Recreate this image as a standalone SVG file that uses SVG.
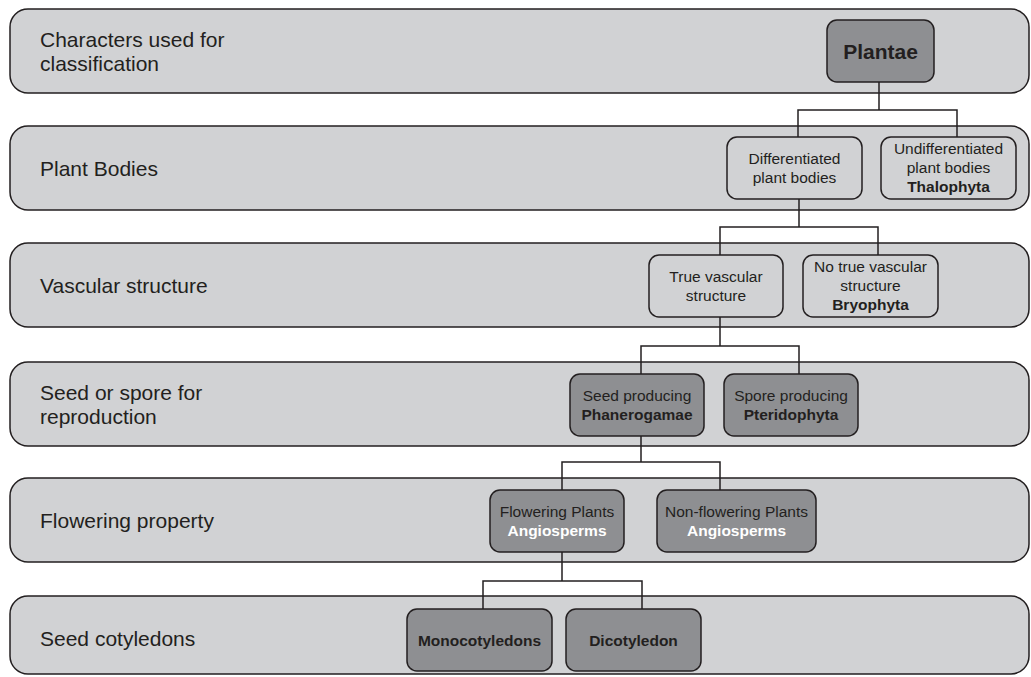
<svg xmlns="http://www.w3.org/2000/svg" width="1031" height="677" viewBox="0 0 1031 677">
<style>
.band{fill:#d1d2d4;stroke:#231f20;stroke-width:1.5}
.lt{fill:#d1d2d4;stroke:#231f20;stroke-width:1.5}
.dk{fill:#8e8f92;stroke:#231f20;stroke-width:1.5}
.lbl{font-family:"Liberation Sans",Arial,sans-serif;font-size:21px;fill:#231f20}
.t{font-family:"Liberation Sans",Arial,sans-serif;font-size:15.5px;fill:#231f20;text-anchor:middle}
.b{font-weight:bold}
.w{fill:#ffffff;font-weight:bold}
.conn{fill:none;stroke:#231f20;stroke-width:1.5}
</style>
<rect width="1031" height="677" fill="#ffffff"/>
<g id="bands">
<g id="band1"><rect class="band" x="10" y="9" width="1019" height="84" rx="18"/>
<text class="lbl" x="40" y="46.5">Characters used for</text><text class="lbl" x="40" y="70.5">classification</text></g>
<g id="band2"><rect class="band" x="10" y="126" width="1019" height="84" rx="18"/>
<text class="lbl" x="40" y="175.5">Plant Bodies</text></g>
<g id="band3"><rect class="band" x="10" y="243" width="1019" height="84" rx="18"/>
<text class="lbl" x="40" y="292.5">Vascular structure</text></g>
<g id="band4"><rect class="band" x="10" y="362" width="1019" height="84" rx="18"/>
<text class="lbl" x="40" y="399.5">Seed or spore for</text><text class="lbl" x="40" y="423.5">reproduction</text></g>
<g id="band5"><rect class="band" x="10" y="478" width="1019" height="84" rx="18"/>
<text class="lbl" x="40" y="527.5">Flowering property</text></g>
<g id="band6"><rect class="band" x="10" y="596" width="1019" height="78" rx="18"/>
<text class="lbl" x="40" y="645.5">Seed cotyledons</text></g>
</g>
<g id="connectors">
<path class="conn" d="M879 82V110M798 137V110H957V137"/>
<path class="conn" d="M799 199V227M720 255V227H878V255"/>
<path class="conn" d="M720 317V346M641 374V346H799V374"/>
<path class="conn" d="M641 436V462M562 490V462H720V490"/>
<path class="conn" d="M562 552V581M483 609V581H642V609"/>
</g>
<g id="plantae"><rect class="dk" x="827" y="20" width="107" height="62" rx="10"/>
<text class="t b" x="880.5" y="58.5" style="font-size:21px">Plantae</text></g>
<g id="differentiated"><rect class="lt" x="727" y="137" width="135" height="62" rx="10"/>
<text class="t" x="794.5" y="163.5">Differentiated</text><text class="t" x="794.5" y="182.5">plant bodies</text></g>
<g id="undifferentiated"><rect class="lt" x="881" y="137" width="135" height="62" rx="10"/>
<text class="t" x="948.5" y="154">Undifferentiated</text><text class="t" x="948.5" y="173">plant bodies</text><text class="t b" x="948.5" y="192">Thalophyta</text></g>
<g id="truevascular"><rect class="lt" x="649" y="255" width="134" height="62" rx="10"/>
<text class="t" x="716" y="281.5">True vascular</text><text class="t" x="716" y="300.5">structure</text></g>
<g id="notruevascular"><rect class="lt" x="803" y="255" width="135" height="62" rx="10"/>
<text class="t" x="870.5" y="272">No true vascular</text><text class="t" x="870.5" y="291">structure</text><text class="t b" x="870.5" y="310">Bryophyta</text></g>
<g id="seed"><rect class="dk" x="570" y="374" width="134" height="62" rx="10"/>
<text class="t" x="637" y="400.5">Seed producing</text><text class="t b" x="637" y="419.5">Phanerogamae</text></g>
<g id="spore"><rect class="dk" x="724" y="374" width="134" height="62" rx="10"/>
<text class="t" x="791" y="400.5">Spore producing</text><text class="t b" x="791" y="419.5">Pteridophyta</text></g>
<g id="flowering"><rect class="dk" x="490" y="490" width="134" height="62" rx="10"/>
<text class="t" x="557" y="516.5">Flowering Plants</text><text class="t w" x="557" y="535.5">Angiosperms</text></g>
<g id="nonflowering"><rect class="dk" x="657" y="490" width="159" height="62" rx="10"/>
<text class="t" x="736.5" y="516.5">Non-flowering Plants</text><text class="t w" x="736.5" y="535.5">Angiosperms</text></g>
<g id="monocot"><rect class="dk" x="407" y="609" width="145" height="62" rx="10"/>
<text class="t b" x="479.5" y="645.5">Monocotyledons</text></g>
<g id="dicot"><rect class="dk" x="566" y="609" width="135" height="62" rx="10"/>
<text class="t b" x="633.5" y="645.5">Dicotyledon</text></g>
</svg>
